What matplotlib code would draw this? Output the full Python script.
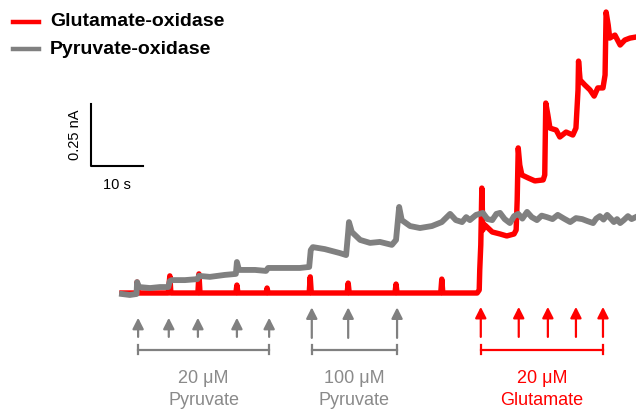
import matplotlib
matplotlib.use('Agg')
import matplotlib.pyplot as plt

plt.rcParams['font.family'] = ['Liberation Sans', 'DejaVu Sans']

# time in s, current in nA
pyr_t = [0, 1.5, 2.8, 2.9, 3.3, 5.4, 7.3, 8.9, 9.2, 9.6, 12.1, 14.5, 14.8, 16.9, 19.8, 21.9,
         22.1, 22.5, 25.6, 27.7, 28.1, 30.4, 34.2, 36.0, 36.3, 36.7, 39.0, 41.9, 43.1, 43.5,
         43.65, 44.2, 45.8, 47.7, 49.6, 51.9, 52.7, 53.3, 53.8, 55.4, 57.3, 59.6, 61.5, 63.1,
         64.2, 65.4, 66.2, 66.9, 68.1, 69.4, 70.3, 71.2, 72.0, 72.7, 73.6, 74.6, 75.4, 76.2,
         77.0, 77.9, 78.8, 79.8, 80.7, 81.7, 82.8, 83.8, 85.0, 86.2, 87.3, 88.5, 89.5, 90.6,
         91.2, 91.9, 92.6, 93.3, 94.0, 94.6, 95.2, 95.8, 96.5, 97.3, 98.0, 98.8]
pyr_i = [-0.004, -0.008, -0.004, 0.044, 0.024, 0.020, 0.024, 0.024, 0.048, 0.052, 0.052, 0.056,
         0.069, 0.065, 0.073, 0.077, 0.125, 0.093, 0.093, 0.089, 0.101, 0.101, 0.101, 0.105,
         0.173, 0.185, 0.177, 0.161, 0.153, 0.246, 0.286, 0.246, 0.214, 0.202, 0.206, 0.194,
         0.214, 0.347, 0.294, 0.270, 0.262, 0.270, 0.286, 0.319, 0.294, 0.286, 0.306, 0.294,
         0.315, 0.323, 0.298, 0.294, 0.319, 0.323, 0.298, 0.282, 0.310, 0.319, 0.300, 0.327,
         0.306, 0.294, 0.312, 0.306, 0.298, 0.315, 0.300, 0.286, 0.302, 0.298, 0.290, 0.282,
         0.300, 0.310, 0.296, 0.315, 0.300, 0.286, 0.298, 0.282, 0.294, 0.310, 0.298, 0.306]

glu_t = [0, 2.8, 2.9, 3.1, 8.9, 9.2, 9.4, 14.6, 14.8, 15.0, 21.9, 22.1, 22.3, 27.7, 27.9, 28.1,
         36.0, 36.2, 36.4, 43.3, 43.5, 43.7, 52.5, 52.7, 52.9, 61.3, 61.5, 61.7, 68.3,
         68.7, 68.8, 69.0, 69.2, 69.4, 69.8, 70.4, 71.2, 72.7, 74.0, 75.4, 75.8, 76.0, 76.2,
         76.5, 76.9, 78.1, 79.4, 81.0, 81.3, 81.5, 81.9, 82.3, 83.5, 84.2, 85.4, 86.7, 87.3,
         87.7, 87.8, 88.1, 89.0, 90.0, 90.8, 91.5, 92.5, 92.9, 93.1, 93.5, 93.8, 94.8, 95.8,
         96.7, 97.7, 98.8]
glu_i = [0, 0, 0.044, 0, 0, 0.069, 0, 0, 0.077, 0, 0, 0.032, 0, 0, 0.020, 0,
         0, 0.065, 0, 0, 0.040, 0, 0, 0.036, 0, 0, 0.056, 0, 0,
         0.012, 0.093, 0.194, 0.423, 0.254, 0.274, 0.262, 0.246, 0.238, 0.230, 0.238, 0.254,
         0.375, 0.585, 0.516, 0.476, 0.464, 0.452, 0.456, 0.476, 0.766, 0.718, 0.665, 0.657,
         0.629, 0.649, 0.637, 0.665, 0.819, 0.935, 0.859, 0.839, 0.819, 0.794, 0.827, 0.827,
         0.879, 1.133, 1.081, 1.028, 1.040, 1.000, 1.020, 1.028, 1.032]

# injection times (s)
pyr20_times = [3.1, 9.0, 14.6, 22.1, 28.3]
pyr100_times = [36.5, 43.5, 52.9]
glu20_times = [69.0, 76.3, 81.9, 87.3, 92.5]

RED = '#ff0000'
GREY = '#808080'
GREY_TXT = '#8a8a8a'

fig = plt.figure(figsize=(6.36, 4.16), dpi=100)
ax = fig.add_axes([0, 0, 1, 1])
ax.axis('off')
ax.set_xlim(-23.46, 98.85)
ax.set_ylim(-0.496, 1.1815)

ax.plot(glu_t, glu_i, color=RED, lw=3.9, zorder=2)
ax.plot(pyr_t, pyr_i, color=GREY, lw=4.2, zorder=3)

# scale bar: 10 s x 0.25 nA
sx, sy = -5.96, 0.512
ax.plot([sx, sx, sx + 10], [sy + 0.25, sy, sy], color='black', lw=1.5)
ax.text(sx - 3.1, sy + 0.125, '0.25 nA', rotation=90, ha='center', va='center', fontsize=10.5)
ax.text(sx + 5, sy - 0.078, '10 s', ha='center', va='center', fontsize=10.5)

def injections(times, head, tail, color, label1, label2, txtcolor):
    for t in times:
        ax.annotate('', xy=(t, head), xytext=(t, tail),
                    arrowprops=dict(arrowstyle='-|>,head_length=0.65,head_width=0.33',
                                    color=color, lw=1.6, shrinkA=0, shrinkB=0))
    yb = -0.228
    ax.plot([times[0], times[-1]], [yb, yb], color=color, lw=1.6)
    for t in (times[0], times[-1]):
        ax.plot([t, t], [yb - 0.02, yb + 0.02], color=color, lw=1.6)
    xc = (times[0] + times[-1]) / 2
    ax.text(xc, -0.343, label1, ha='center', va='center', fontsize=13, color=txtcolor)
    ax.text(xc, -0.435, label2, ha='center', va='center', fontsize=13, color=txtcolor)

injections(pyr20_times, -0.100, -0.177, GREY, '20 \u03bcM', 'Pyruvate', GREY_TXT)
injections(pyr100_times, -0.058, -0.181, GREY, '100 \u03bcM', 'Pyruvate', GREY_TXT)
injections(glu20_times, -0.056, -0.177, RED, '20 \u03bcM', 'Glutamate', RED)

# legend
W, H = 636.0, 416.0
for yp, col, name in [(22, RED, 'Glutamate-oxidase'), (49, GREY, 'Pyruvate-oxidase')]:
    ax.plot([13 / W, 39 / W], [1 - yp / H, 1 - yp / H], color=col, lw=3.2, transform=ax.transAxes)
    ax.text(50 / W, 1 - yp / H, name, transform=ax.transAxes, fontsize=14,
            fontweight='bold', va='center', ha='left')

fig.savefig('out.png', dpi=100)
